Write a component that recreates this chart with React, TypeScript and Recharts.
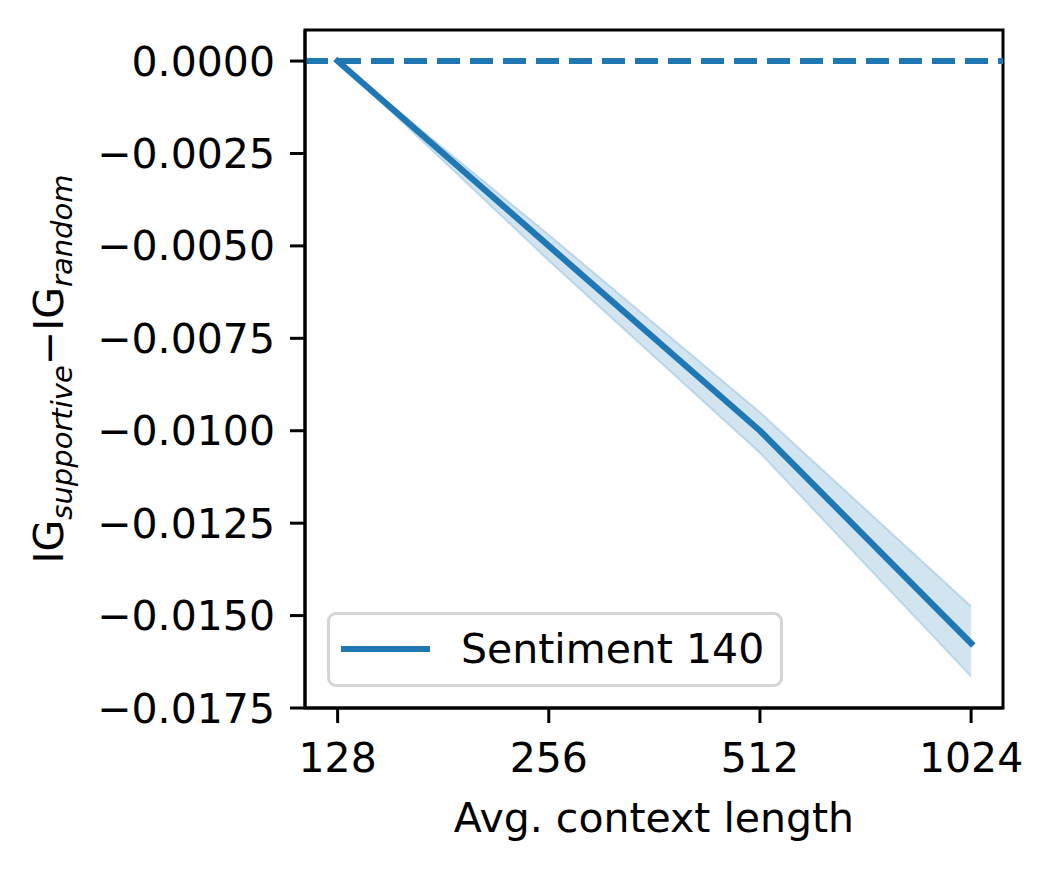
import {
  ComposedChart,
  Line,
  Area,
  XAxis,
  YAxis,
  ReferenceLine,
  ReferenceArea,
  Legend,
  Label,
} from "recharts"

const contextLengths = [128, 256, 512, 1024]
const igDiff = [0, -0.005, -0.01, -0.01575]
const bandLow = [0, -0.0054, -0.0106, -0.01665]
const bandHigh = [0, -0.0047, -0.0095, -0.01475]
const xTicks = [128, 256, 512, 1024]
const yTicks = [0, -0.0025, -0.005, -0.0075, -0.01, -0.0125, -0.015, -0.0175]
const xDomain = [115, 1137]
const yDomain = [-0.0175, 0.00084]

const BLUE = "#1f77b4"
const FONT = "DejaVu Sans"

const data = contextLengths.map((x, i) => ({
  x,
  mean: igDiff[i],
  band: [bandLow[i], bandHigh[i]],
}))

const fmtY = (v: number) =>
  v < 0 ? `\u2212${Math.abs(v).toFixed(4)}` : v.toFixed(4)

function LegendBox() {
  return (
    <div
      style={{
        boxSizing: "border-box",
        width: 456,
        height: 75,
        border: "3px solid #d5d5d5",
        borderRadius: 9,
        background: "rgba(255,255,255,0.8)",
        position: "relative",
        fontFamily: FONT,
        fontSize: 41,
        color: "#000",
      }}
    >
      <div
        style={{
          position: "absolute",
          left: 11,
          top: 31,
          width: 89,
          height: 6,
          background: BLUE,
        }}
      />
      <div style={{ position: "absolute", left: 131, top: 10, lineHeight: "48px" }}>
        Sentiment 140
      </div>
    </div>
  )
}

export default function App() {
  return (
    <div style={{ position: "absolute", left: 0, top: 0, background: "#fff" }}>
      <ComposedChart
        width={1053}
        height={869}
        data={data}
        margin={{ top: 30, right: 50, bottom: 61, left: 0 }}
      >
        <XAxis
          dataKey="x"
          type="number"
          scale="log"
          domain={xDomain}
          allowDataOverflow
          ticks={xTicks}
          interval={0}
          tickSize={15}
          tickMargin={20}
          height={100}
          stroke="#000"
          strokeWidth={3}
          tickLine={{ stroke: "#000", strokeWidth: 3 }}
          tick={{ fontSize: 41, fill: "#000", fontFamily: FONT }}
        >
          <Label
            content={({ viewBox }: any) => (
              <text
                x={viewBox.x + viewBox.width / 2}
                y={viewBox.y + 124}
                textAnchor="middle"
                fontSize={41}
                fontFamily={FONT}
                fill="#000"
              >
                Avg. context length
              </text>
            )}
          />
        </XAxis>
        <YAxis
          type="number"
          domain={yDomain}
          allowDataOverflow
          ticks={yTicks}
          interval={0}
          width={305}
          tickSize={15}
          tickMargin={15}
          tickFormatter={fmtY}
          stroke="#000"
          strokeWidth={3}
          tickLine={{ stroke: "#000", strokeWidth: 3 }}
          tick={{ fontSize: 41, fill: "#000", fontFamily: FONT }}
        >
          <Label
            content={() => (
              <text
                x={63}
                y={369}
                transform="rotate(-90, 63, 369)"
                textAnchor="middle"
                fontSize={41}
                fontFamily={FONT}
                fill="#000"
              >
                <tspan>IG</tspan>
                <tspan fontSize={29} fontStyle="italic" dy={9}>
                  supportive
                </tspan>
                <tspan dy={-9}>{"\u2212"}IG</tspan>
                <tspan fontSize={29} fontStyle="italic" dy={9}>
                  random
                </tspan>
              </text>
            )}
          />
        </YAxis>
        <ReferenceArea
          x1={xDomain[0]}
          x2={xDomain[1]}
          y1={yDomain[0]}
          y2={yDomain[1]}
          fill="none"
          stroke="#000"
          strokeWidth={3}
          ifOverflow="visible"
        />
        <Area
          dataKey="band"
          type="linear"
          fill={BLUE}
          fillOpacity={0.2}
          stroke={BLUE}
          strokeOpacity={0.2}
          strokeWidth={2}
          isAnimationActive={false}
          legendType="none"
        />
        <ReferenceLine
          y={0}
          stroke={BLUE}
          strokeWidth={6}
          strokeDasharray="23 10"
        />
        <Line
          dataKey="mean"
          type="linear"
          stroke={BLUE}
          strokeWidth={6.25}
          strokeLinecap="square"
          strokeLinejoin="round"
          dot={false}
          activeDot={false}
          isAnimationActive={false}
          name="Sentiment 140"
        />
        <Legend
          layout="vertical"
          align="center"
          verticalAlign="middle"
          wrapperStyle={{ left: 327, top: 612, width: 456, height: 75 }}
          content={() => <LegendBox />}
        />
      </ComposedChart>
    </div>
  )
}
